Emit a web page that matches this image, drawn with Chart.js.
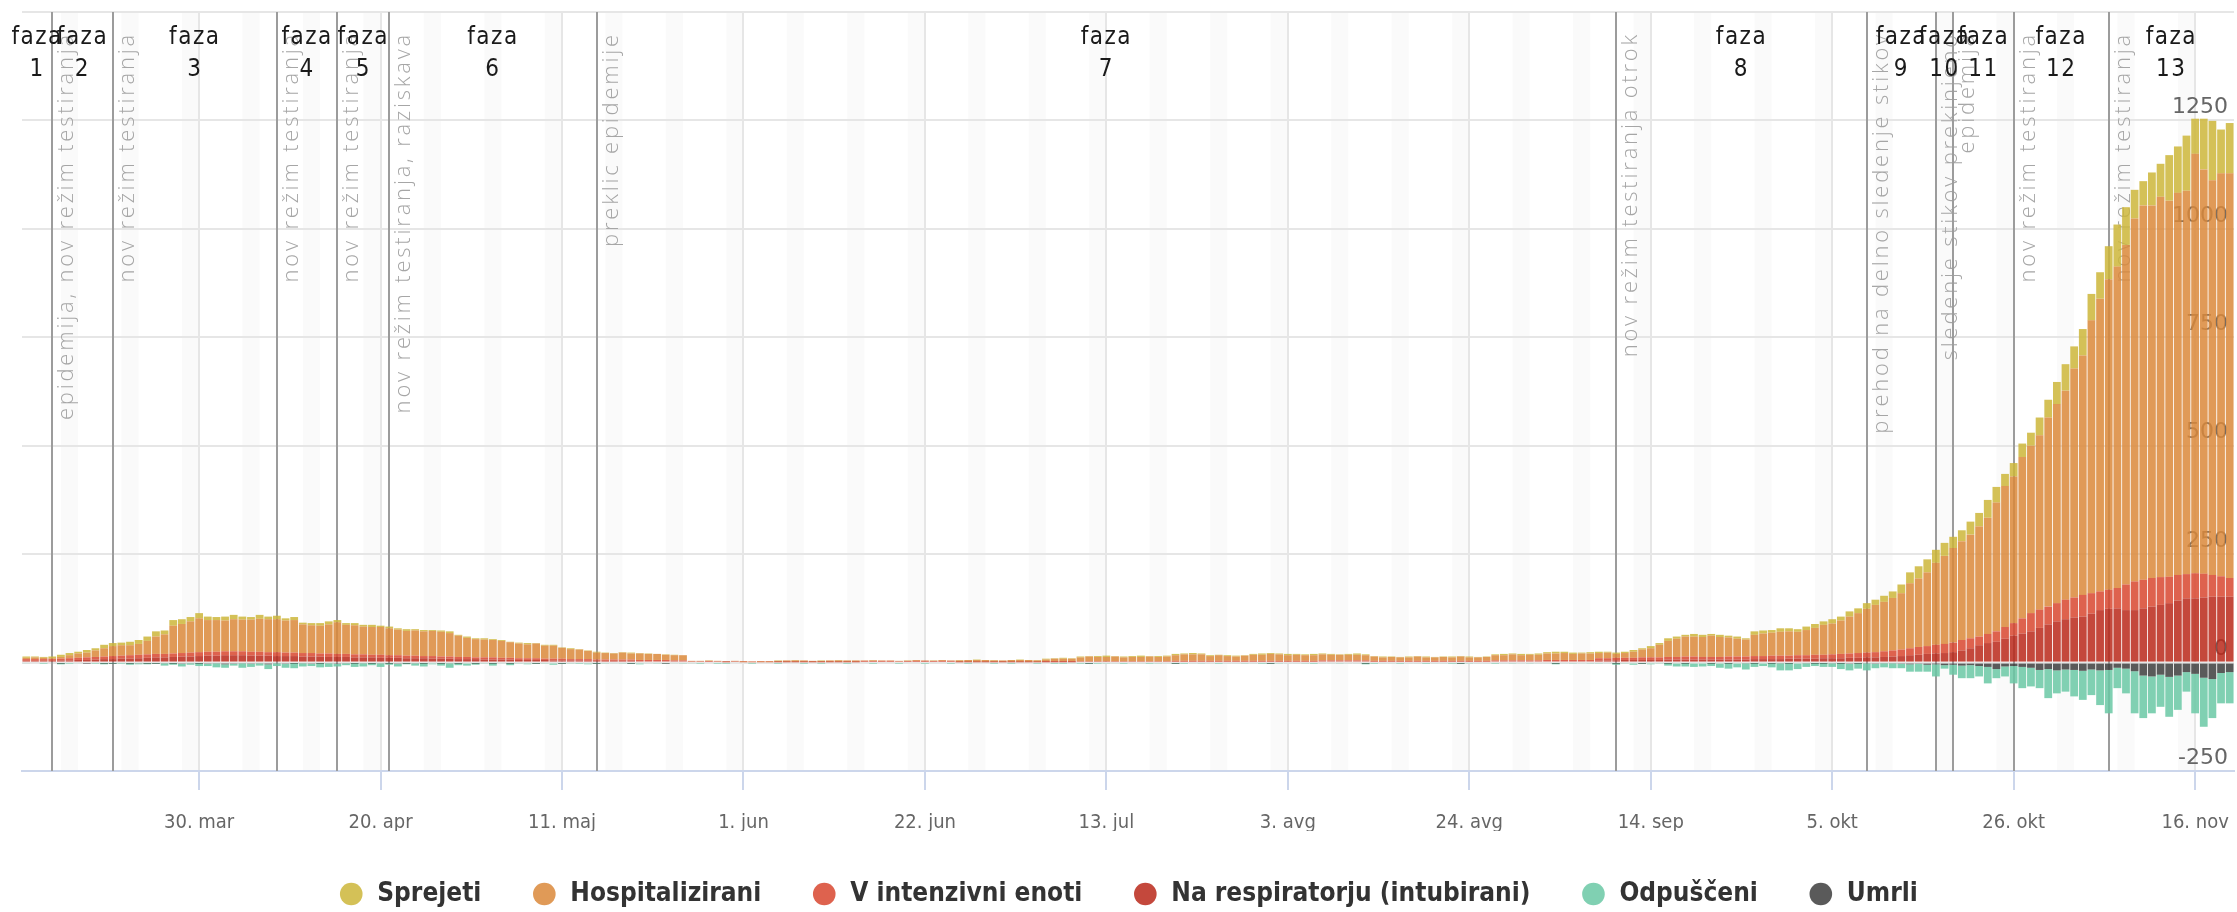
<!DOCTYPE html>
<html>
<head>
<meta charset="utf-8">
<script src="https://cdn.jsdelivr.net/npm/chart.js@4.4.1/dist/chart.umd.min.js"></script>
<style>
  html, body { margin: 0; padding: 0; background: #fff; }
  canvas { display: block; }
</style>
</head>
<body>
<canvas id="bolnisnice" width="2237" height="912"></canvas>
<script>
// dnevni podatki 10. mar - 20. nov 2020
const months = ['jan', 'feb', 'mar', 'apr', 'maj', 'jun', 'jul', 'avg', 'sep', 'okt', 'nov', 'dec'];
const days = [];
for (let i = 0; i < 256; i++) days.push(new Date(2020, 2, 10 + i));
const categories = days.map(d => d.getDate() + '. ' + months[d.getMonth()]);

const tickLabels = ['30. mar', '20. apr', '11. maj', '1. jun', '22. jun', '13. jul', '3. avg', '24. avg', '14. sep', '5. okt', '26. okt', '16. nov'];

const sprejeti = [
  3,2,2,4,5,5,4,6,5,8,7,6,8,9,10,12,9,13,11,10,12,8,7,9,10,7,6,9,6,8,5,7,4,5,6,7,5,4,5,4,5,3,4,3,4,3,3,2,3,4,2,3,2,3,2,2,1,2,3,1,2,2,1,2,1,1,2,1,1,
  1,2,1,1,0,1,1,0, 0,0,1,0,0,0, 0,0,0,0, 1,0,1,0,0,1,0,1,0,0, 0,1,0,0,0,1,0,0,1,0,0, 1,0,1,0,1,0,0,1,0,1, 2,1,2,1, 2,1,2,3,1,2,2,3,1,2,2, 3,2,3,2, 2,1,2,2,1, 2,3,2,2,3, 2,2,3,2,2,1,2,3,2, 1,2,1,1,2,1,2,1,1,2,1,2,1,1, 2,3,2,3,2,3, 3,4,3, 3,2,3,
  3,2,3,3,4,3,5,4,6,5,4,6,5,4,5,4,5,3,8,7,6,8,7,6,8,9,8,10,9,12,11,13,12,14,15,
  20,25,28,30,30,30,26,25,30,31,41,36,28,31,31,30,41,41,51,61,51,61,61,61,76,97,87,66,56,76,76,105,107,127,81,117,137,101,116
];
const hospitalizirani = [
  3,4,3,2,4,7,10,11,15,19,23,24,23,25,31,40,45,64,67,72,78,73,73,71,74,73,74,76,76,76,74,75,66,64,64,67,73,67,67,64,64,64,62,59,57,58,57,58,57,54,49,44,42,41,40,39,36,34,32,34,30,30,25,23,22,19,16,15,14,
  16,14,15,14,14,12,12,12, 1,1,0,1,1,1, 2,1,2,2, 2,3,3,3,2,2,3,3,3,3, 1,1,1,1,1,0,2,1,0,2,1, 3,4,4,4,3,3,4,4,4,3, 4,6,6,6, 9,11,10,10,11,9,10,10,11,10,11, 13,15,15,15, 11,13,11,10,12, 14,14,16,15,13, 14,13,13,14,13,13,13,13,12, 10,8,9,8,8,10,8,8,9,8,10,8,8,9, 12,12,14,12,13,13, 15,15,16, 14,15,15,
  12,13,9,11,14,18,21,29,37,42,46,46,46,49,46,44,41,39,49,52,53,55,56,54,58,62,69,71,77,85,92,101,109,114,121,
  130,150,158,170,189,203,218,228,239,254,268,297,325,338,372,386,402,436,459,482,528,552,629,675,716,741,783,837,863,859,877,867,881,884,967,932,910,929,933
];
const intenzivna = [
  4,4,4,4,4,5,5,6,6,6,7,7,8,8,8,8,8,8,8,9,9,9,9,9,9,9,9,9,8,9,8,8,8,8,7,8,7,7,7,7,6,7,6,6,6,6,5,6,5,5,5,5,4,5,5,4,4,4,4,4,3,4,4,3,3,4,3,3,3,
  3,3,3,3,3,3,2,2, 1,1,2,1,1,1, 1,1,1,1, 1,1,1,1,1,1,1,1,1,1, 2,2,2,2,1,2,2,2,2,2,2, 1,1,1,1,1,1,1,1,1,1, 2,2,2,2, 1,1,1,1,1,1,1,1,1,1,1, 2,2,2,2, 2,2,2,2,2, 2,2,2,2,2, 2,2,2,2,2,2,2,2,2, 2,2,2,2,2,2,2,2,2,2,2,2,2,2, 2,2,2,2,2,2, 3,3,3, 3,3,3,
  5,5,6,5,5,6,6,6,6,6,7,7,6,6,6,7,7,7,7,7,8,8,7,8,8,9,8,9,10,10,11,11,12,13,14,
  15,16,18,18,20,21,22,24,23,20,21,24,27,29,35,42,42,41,42,45,46,50,47,43,44,47,59,66,66,66,64,61,59,56,58,55,50,47,43
];
const respirator = [
  4,4,4,4,5,5,6,6,7,8,8,9,9,10,11,12,12,13,14,14,15,16,16,17,17,17,16,16,16,15,15,15,14,14,14,13,13,13,12,12,12,11,11,11,10,10,10,9,9,9,8,8,8,7,7,7,7,6,6,6,6,5,5,5,5,4,4,4,4,
  4,4,3,3,3,3,3,3, 2,2,2,2,1,2, 0,0,0,0, 1,1,1,1,1,1,1,1,1,1, 2,2,2,2,2,2,2,2,2,2,2, 1,1,1,1,1,1,1,1,1,1, 1,1,1,1, 2,2,2,2,2,2,2,2,2,2,2, 2,2,2,2, 2,2,2,2,2, 2,2,2,2,2, 2,2,2,3,3,3,3,3,3, 2,2,2,2,2,2,2,2,2,2,2,2,2,2, 3,3,3,3,3,3, 3,3,3, 3,3,3,
  5,5,5,6,6,6,6,6,7,7,7,7,7,7,7,7,7,7,8,8,8,8,9,9,9,9,10,10,10,11,11,12,12,13,14,
  15,17,18,20,21,22,24,28,33,40,45,48,55,62,67,72,80,88,95,100,104,106,113,121,124,125,121,121,125,129,133,137,143,148,148,150,152,152,152
];
const odpusceni = [
  -2,0,-1,0,-3,-1,-2,0,-1,-3,-2,-1,-4,-2,-3,-2,-5,-4,-6,-3,-7,-5,-9,-8,-4,-10,-7,-5,-11,-6,-9,-12,-7,-5,-10,-8,-6,-4,-9,-7,-5,-8,-4,-6,-3,-5,-8,-4,-6,-10,-5,-7,-4,-3,-6,-2,-5,-3,-4,-2,-3,-5,-2,-3,-1,-4,-2,-3,-2,
  -3,-2,-4,-2,-3,-1,-2,-3,-2,-1,0,-1, -1,0,0,-1,0,0,-1,0,0,-1,0,-1,0,0,-1,0,0,-1,0,0, -1,0,0,-1,0,0,-1,0,-1,0,0,-1,0,-1,0,0,-1,0,-1,-1, -2,-1,-2,-1,-3,-2,-1,-2,-2,-1,-3,-2,-2,-1,-2,-3,-2,-1,-2,-2, -3,-2,-1,-2,-3,-2,-2,-3,-1,-2,-2,-3,-2,-2,-3,-1,-2,-2,-1,-2, -2,-1,-2,-2,-1,-2,-3,-2,-2,-1,-2,-3,-2,-3,-2,-2,-3,-2,-3,-2,-3,
  -3,-2,-4,-3,-5,-2,-4,-3,-6,-9,-8,-10,-9,-7,-12,-13,-11,-14,-9,-8,-10,-16,-17,-15,-8,-7,-9,-8,-14,-15,-13,-16,-10,-9,-11,
  -10,-17,-18,-16,-28,-8,-23,-29,-30,-24,-38,-21,-23,-40,-49,-43,-42,-67,-53,-51,-61,-67,-59,-80,-100,-47,-57,-97,-98,-85,-74,-92,-79,-45,-91,-113,-90,-70,-72
];
const umrli = [
  0,0,0,0,-1,0,0,-1,0,-1,-1,0,-1,-2,-1,-1,-2,-1,-3,-2,-1,-3,-2,-4,-3,-2,-3,-2,-4,-2,-3,-1,-2,-3,-1,-2,-3,-2,-1,-2,-1,-2,-1,-3,-1,-2,-1,0,-1,-2,-1,0,-1,0,-1,0,-1,0,0,-1,0,0,-1,0,0,0,-1,0,0,
  0,-1,0,0,0,-1,0,0,0,0,0,0, 0,0,0,0,0,0,0,0,0,0,0,0,0,0,0,0,0,0,0,0, 0,0,0,0,0,0,0,0,0,0,0,0,0,0,0,0,0,0,0,0, 0,0,-1,0,0,0,0,0,0,0,0,0,-1,0,0,0,0,0,0,0, 0,0,0,-1,0,0,0,0,0,0,0,0,0,0,-1,0,0,0,0,0, 0,0,0,0,0,-1,0,0,0,0,0,0,0,0,0,0,-1,0,0,0,0,
  0,0,-1,0,0,-1,0,0,-1,0,-1,0,0,-1,0,-1,0,-2,-1,0,-1,-2,-1,0,-2,-1,-1,-2,-1,-3,-1,-2,-3,-2,-2,
  -3,-4,-3,-5,-4,-6,-5,-7,-6,-8,-10,-15,-9,-8,-10,-12,-17,-15,-18,-16,-17,-19,-16,-18,-17,-12,-14,-20,-30,-32,-28,-33,-30,-22,-26,-35,-38,-24,-22
];

// mejniki (navpične črte) in faze
const phaseDates = ['13. mar', '20. mar', '8. apr', '15. apr', '21. apr', '15. maj', '10. sep', '9. okt', '17. okt', '19. okt', '26. okt', '6. nov'];
const phaseNotes = [
  'epidemija, nov režim testiranja', 'nov režim testiranja', 'nov režim testiranja', 'nov režim testiranja',
  'nov režim testiranja, raziskava', 'preklic epidemije', 'nov režim testiranja otrok', 'prehod na delno sledenje stikov',
  'sledenje stikov prekinjeno', 'epidemija', 'nov režim testiranja', 'nov režim testiranja'
];
const phaseNumbers = ['1', '2', '3', '4', '5', '6', '7', '8', '9', '10', '11', '12', '13'];

const condensed = '"DejaVu Sans Condensed", "DejaVu Sans", sans-serif';

const weekendBands = {
  id: 'weekendBands',
  beforeDraw(chart) {
    const { ctx, chartArea: a } = chart;
    const x = chart.scales.x;
    ctx.save();
    ctx.fillStyle = 'rgba(0, 0, 0, 0.02)';
    days.forEach((d, i) => {
      if (d.getDay() !== 6) return;
      const x0 = Math.max(x.getPixelForValue(i), a.left);
      const x1 = Math.min(x.getPixelForValue(i + 2), a.right);
      if (x1 > x0) ctx.fillRect(x0, a.top, x1 - x0, a.bottom - a.top);
    });
    ctx.restore();
  }
};

const phaseLines = {
  id: 'phaseLines',
  beforeDatasetsDraw(chart) {
    const { ctx, chartArea: a } = chart;
    const x = chart.scales.x;
    ctx.save();
    ctx.strokeStyle = '#9c9c9c';
    ctx.lineWidth = 2;
    ctx.fillStyle = '#a6a6a6';
    ctx.font = '300 22px "Open Sans", sans-serif';
    ctx.letterSpacing = '2.8px';
    ctx.textAlign = 'right';
    ctx.textBaseline = 'alphabetic';
    phaseDates.forEach((label, k) => {
      const px = Math.round(x.getPixelForValue(categories.indexOf(label)));
      ctx.beginPath();
      ctx.moveTo(px, a.top);
      ctx.lineTo(px, a.bottom);
      ctx.stroke();
      ctx.save();
      ctx.translate(px + 21, a.top + 20);
      ctx.rotate(-Math.PI / 2);
      ctx.fillText(phaseNotes[k], 0, 0);
      ctx.restore();
    });
    ctx.restore();
  },
  afterDatasetsDraw(chart) {
    const { ctx, chartArea: a } = chart;
    const x = chart.scales.x;
    const edges = [a.left, ...phaseDates.map(l => x.getPixelForValue(categories.indexOf(l))), a.right];
    ctx.save();
    ctx.fillStyle = '#1a1a1a';
    ctx.font = '24px ' + condensed;
    ctx.letterSpacing = '1.5px';
    ctx.textAlign = 'center';
    ctx.textBaseline = 'middle';
    phaseNumbers.forEach((n, k) => {
      const cx = (edges[k] + edges[k + 1]) / 2;
      ctx.fillText('faza', cx, 38);
      ctx.fillText(n, cx, 70);
    });
    ctx.restore();
  }
};

new Chart(document.getElementById('bolnisnice'), {
  type: 'bar',
  data: {
    labels: categories,
    datasets: [
      { label: 'Sprejeti', data: sprejeti, backgroundColor: 'rgba(204,182,58,0.85)', order: 3 },
      { label: 'Hospitalizirani', data: hospitalizirani, backgroundColor: 'rgba(218,136,58,0.85)', order: 2 },
      { label: 'V intenzivni enoti', data: intenzivna, backgroundColor: 'rgba(216,70,47,0.85)', order: 1 },
      { label: 'Na respiratorju (intubirani)', data: respirator, backgroundColor: 'rgba(186,40,26,0.85)', order: 0 },
      { label: 'Odpuščeni', data: odpusceni, backgroundColor: 'rgba(106,200,164,0.85)', order: 5 },
      { label: 'Umrli', data: umrli, backgroundColor: 'rgba(61,61,61,0.85)', order: 4 }
    ]
  },
  options: {
    responsive: false,
    animation: false,
    devicePixelRatio: 1,
    layout: { padding: { left: 22, right: 3, top: 12, bottom: -5 } },
    datasets: { bar: { barPercentage: 0.9, categoryPercentage: 1, borderWidth: 0 } },
    scales: {
      x: {
        stacked: true,
        afterBuildTicks: s => { s.ticks = s.ticks.filter(t => tickLabels.includes(categories[t.value])); },
        afterFit: s => { s.height = 60; s.paddingLeft = 0; s.paddingRight = 0; },
        ticks: {
          autoSkip: false, maxRotation: 0, padding: 21, color: '#666',
          font: { family: condensed, size: 20 },
          callback: v => categories[v]
        },
        grid: { offset: false, color: '#e6e6e6', lineWidth: 2, tickLength: 19, tickColor: '#ccd6eb', tickWidth: 2 },
        border: { color: '#ccd6eb', width: 2 }
      },
      y: {
        stacked: true,
        position: 'right',
        min: -250,
        max: 1500,
        afterFit: s => { s.width = 0; s.paddingTop = 0; s.paddingBottom = 0; },
        ticks: {
          stepSize: 250, mirror: true, padding: -6, labelOffset: -13, color: '#666',
          font: { family: '"DejaVu Sans", sans-serif', size: 22 },
          callback: v => (v === 1500 ? '' : v)
        },
        grid: { color: '#e6e6e6', lineWidth: 2, drawTicks: false },
        border: { display: false }
      }
    },
    plugins: {
      legend: {
        position: 'bottom',
        labels: {
          usePointStyle: true, pointStyle: 'circle', boxWidth: 26, boxHeight: 16, padding: 50,
          color: '#333', font: { family: condensed, size: 26, weight: 'bold' },
          sort: (a, b) => a.datasetIndex - b.datasetIndex
        }
      },
      tooltip: { enabled: false }
    }
  },
  plugins: [weekendBands, phaseLines]
});
</script>
</body>
</html>
